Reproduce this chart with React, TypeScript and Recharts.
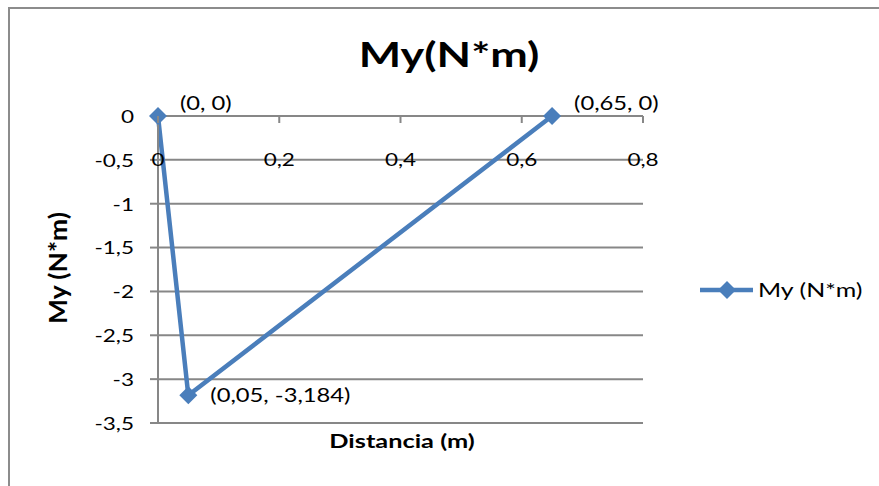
import React from 'react';
import { LineChart, Line, XAxis, YAxis, CartesianGrid, LabelList } from 'recharts';

// Bending moment My along the shaft
const distancia = [0, 0.05, 0.65];
const momentoY = [0, -3.184, 0];
const xTicks = [0, 0.2, 0.4, 0.6, 0.8];
const yTicks = [0, -0.5, -1, -1.5, -2, -2.5, -3, -3.5];
const seriesName = 'My (N*m)';
const chartTitle = 'My(N*m)';
const xTitle = 'Distancia (m)';
const yTitle = 'My (N*m)';

const W = 879;
const H = 486;
const X_AXIS_H = 20;
const MARGIN = { top: 116 - X_AXIS_H, right: 236, bottom: 63, left: 98 };
const Y_AXIS_W = 60;
const PLOT_TOP = 116;
const PLOT_H = H - PLOT_TOP - MARGIN.bottom;
const ROW = PLOT_H / (yTicks.length - 1);

const FONT = 'Lato, "Open Sans", sans-serif';
const STRETCH = 1.25;
const GRID = '#878787';
const BLUE = '#4a7ebb';

const data = distancia.map((x, i) => ({ x, my: momentoY[i] }));

const fmt = (n: number) => String(n).replace('.', ',');

// x ticks hang below the zero line, labels sit on the first grid row
const XTick = (props: any) => {
  const { x, payload } = props;
  return (
    <g>
      <line x1={x} x2={x} y1={PLOT_TOP} y2={PLOT_TOP + 7} stroke={GRID} strokeWidth={2} />
      <text
        transform={`translate(${x},${PLOT_TOP + ROW}) scale(${STRETCH},1)`}
        textAnchor="middle"
        dy="0.36em"
        fontFamily={FONT}
        fontSize={18}
        fill="#000"
      >
        {fmt(payload.value)}
      </text>
    </g>
  );
};

const YTick = (props: any) => {
  const { x, y, payload } = props;
  return (
    <text
      transform={`translate(${x},${y}) scale(${STRETCH},1)`}
      textAnchor="end"
      dy="0.38em"
      fontFamily={FONT}
      fontSize={18}
      fill="#000"
    >
      {fmt(payload.value)}
    </text>
  );
};

const Diamond = (props: any) => {
  const { cx, cy } = props;
  if (cx == null || cy == null) return null;
  const r = 9;
  return <path d={`M${cx},${cy - r}L${cx + r},${cy}L${cx},${cy + r}L${cx - r},${cy}Z`} fill={BLUE} />;
};

const PointLabel = (props: any) => {
  const { x, y, index } = props;
  const dy = momentoY[index] === 0 ? -13 : 0;
  return (
    <text
      transform={`translate(${x + 22},${y + dy}) scale(${STRETCH},1)`}
      dy="0.36em"
      fontFamily={FONT}
      fontSize={19}
      fill="#000"
    >
      {`(${fmt(distancia[index])}, ${fmt(momentoY[index])})`}
    </text>
  );
};

export default function App() {
  return (
    <div style={{ position: 'fixed', left: 0, top: 0, width: W, height: H, overflow: 'hidden', background: '#fff' }}>
      <div
        style={{
          position: 'absolute',
          left: 8,
          top: 7,
          width: 920,
          height: 520,
          border: '2px solid #8c8c8c',
        }}
      />
      <div style={{ position: 'absolute', left: 0, top: 0 }}>
        <LineChart width={W} height={H} data={data} margin={MARGIN}>
          <CartesianGrid vertical={false} stroke={GRID} strokeWidth={2} />
          <XAxis
            dataKey="x"
            type="number"
            orientation="top"
            domain={[0, 0.8]}
            ticks={xTicks}
            height={X_AXIS_H}
            tickSize={0}
            tickMargin={0}
            tickLine={false}
            axisLine={{ stroke: GRID, strokeWidth: 2 }}
            tick={<XTick />}
            interval={0}
          />
          <YAxis
            type="number"
            domain={[-3.5, 0]}
            ticks={yTicks}
            width={Y_AXIS_W}
            tickSize={8}
            tickMargin={16}
            tickLine={{ stroke: GRID, strokeWidth: 2 }}
            axisLine={{ stroke: GRID, strokeWidth: 2 }}
            tick={<YTick />}
            interval={0}
          />
          <Line
            type="linear"
            dataKey="my"
            name={seriesName}
            stroke={BLUE}
            strokeWidth={4.5}
            dot={<Diamond />}
            activeDot={false}
            isAnimationActive={false}
          >
            <LabelList dataKey="my" content={<PointLabel />} />
          </Line>
        </LineChart>
      </div>
      <svg width={W} height={H} style={{ position: 'absolute', left: 0, top: 0, pointerEvents: 'none' }}>
        <text
          transform="translate(449,67) scale(1.32,1)"
          textAnchor="middle"
          fontFamily={FONT}
          fontWeight="bold"
          fontSize={34}
          fill="#000"
        >
          {chartTitle}
        </text>
        <text
          transform="translate(402,448) scale(1.3,1)"
          textAnchor="middle"
          fontFamily={FONT}
          fontWeight="bold"
          fontSize={19.5}
          fill="#000"
        >
          {xTitle}
        </text>
        <text
          transform="translate(67,268) rotate(-90) scale(1.1,1)"
          textAnchor="middle"
          fontFamily={FONT}
          fontWeight="bold"
          fontSize={24}
          fill="#000"
        >
          {yTitle}
        </text>
        {/* legend */}
        <line x1={700} x2={753} y1={290} y2={290} stroke={BLUE} strokeWidth={4.5} />
        <path d="M727,281L736,290L727,299L718,290Z" fill={BLUE} />
        <text
          transform="translate(758,290) scale(1.28,1)"
          dy="0.36em"
          fontFamily={FONT}
          fontSize={19.5}
          fill="#000"
        >
          {seriesName}
        </text>
      </svg>
    </div>
  );
}
